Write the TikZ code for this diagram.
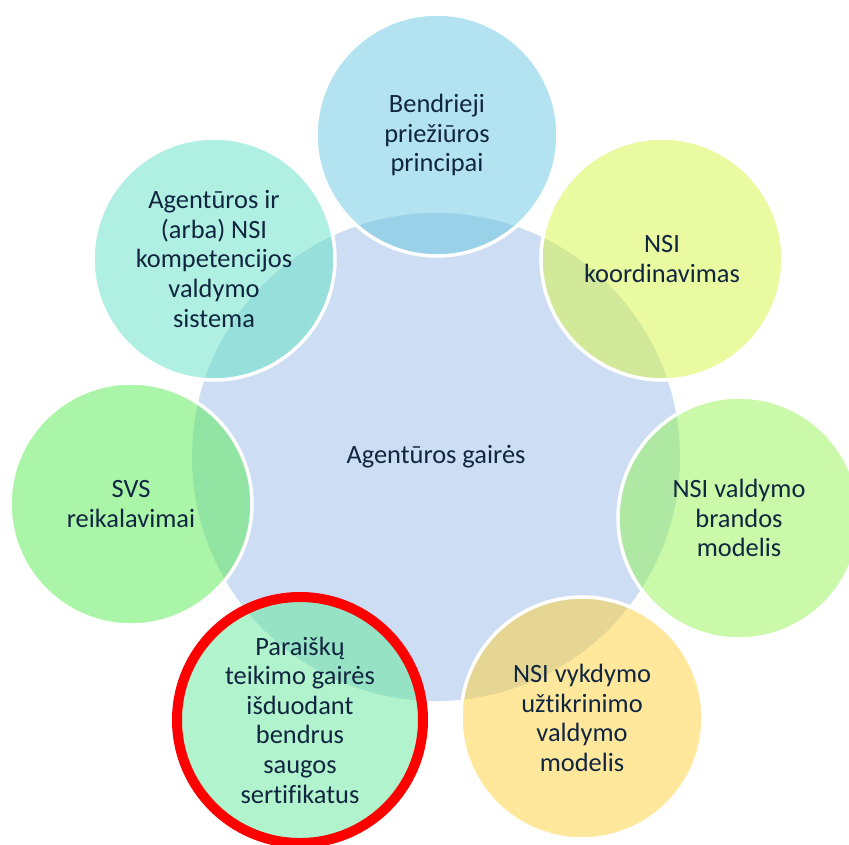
\documentclass[tikz,border=0pt]{standalone}
\usepackage{fontspec}
\setmainfont{Carlito}[Ligatures=NoCommon]
\definecolor{txt}{RGB}{16,37,63}
\definecolor{cmain}{RGB}{205,221,243}
\definecolor{ctop}{RGB}{103,199,225}
\definecolor{cagent}{RGB}{97,225,197}
\definecolor{ckoord}{RGB}{213,245,65}
\definecolor{csvs}{RGB}{87,235,83}
\definecolor{cbrand}{RGB}{147,243,83}
\definecolor{cvykd}{RGB}{255,209,55}
\definecolor{cparai}{RGB}{97,231,153}
\begin{document}
\begin{tikzpicture}[x=1pt,y=-1pt,
  lbl/.style={align=center, text=txt, font=\fontsize{26.4}{29.6}\selectfont},
  hub/.style={lbl, circle, minimum size=488pt, inner sep=0pt, fill=cmain},
  outer/.style={lbl, circle, minimum size=242pt, inner sep=0pt, fill=#1,
    fill opacity=0.5, text opacity=1, draw=white, draw opacity=1, line width=3.5pt},
  marked/.style={draw=red, line width=10pt, minimum size=246pt}]
\useasboundingbox (0,0) rectangle (849,844);
\clip (0,0) rectangle (849,844);
\node[hub] (c) at (436,457) {Agentūros gairės};
\node[outer=ctop] (n1) at (437,135) {Bendrieji\\priežiūros\\principai};
\node[outer=ckoord] (n2) at (662,259) {NSI\\koordinavimas};
\node[outer=cbrand] (n3) at (739,518) {NSI valdymo\\brandos\\modelis};
\node[outer=cvykd] (n4) at (582,718) {NSI vykdymo\\užtikrinimo\\valdymo\\modelis};
\node[outer=cparai, marked] (n5) at (300,720) {Paraiškų\\teikimo gairės\\išduodant\\bendrus\\saugos\\sertifikatus};
\node[outer=csvs] (n6) at (131,504) {SVS\\reikalavimai};
\node[outer=cagent] (n7) at (214,259) {Agentūros ir\\(arba) NSI\\kompetencijos\\valdymo\\sistema};
\end{tikzpicture}
\end{document}
